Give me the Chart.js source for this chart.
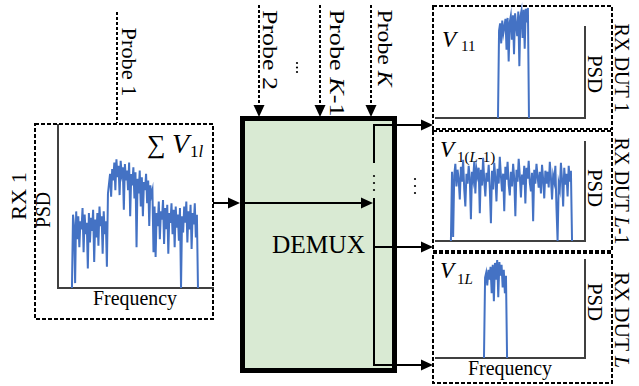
<!DOCTYPE html>
<html>
<head>
<meta charset="utf-8">
<script src="https://cdn.jsdelivr.net/npm/chart.js@4.4.1/dist/chart.umd.min.js"></script>
<style>
html, body { margin: 0; padding: 0; background: #fff; }
#wrap { position: relative; width: 639px; height: 386px; overflow: hidden; }
#wrap canvas { position: absolute; }
#wrap svg { position: absolute; left: 0; top: 0; }
</style>
</head>
<body>
<div id="wrap">
<svg width="639" height="386" xmlns="http://www.w3.org/2000/svg" font-family="'Liberation Serif','Times New Roman',serif" fill="#000">
  <!-- dashed frames -->
  <g fill="none" stroke="#000" stroke-width="2" stroke-dasharray="4 2">
    <rect x="35" y="124" width="178" height="195"/>
    <rect x="433" y="6" width="179" height="123"/>
    <rect x="433" y="131" width="179" height="120"/>
    <rect x="433" y="253" width="179" height="130"/>
  </g>
  <!-- probes -->
  <g stroke="#000" stroke-width="2" stroke-dasharray="3 2">
    <line x1="117" y1="12" x2="117" y2="123"/>
    <line x1="259" y1="5" x2="259" y2="106"/>
    <line x1="320" y1="5" x2="320" y2="106"/>
    <line x1="371" y1="5" x2="371" y2="106"/>
  </g>
  <polygon points="253.5,105 264.5,105 259,117"/>
  <polygon points="314.5,105 325.5,105 320,117"/>
  <polygon points="365.5,105 376.5,105 371,117"/>
  <circle cx="297" cy="63" r="1.1"/><circle cx="297" cy="67.5" r="1.1"/><circle cx="297" cy="72" r="1.1"/>

  <!-- demux -->
  <rect x="242.5" y="118.5" width="152" height="252" fill="#d9ead3" stroke="#000" stroke-width="5"/>
  <g stroke="#000" stroke-width="2" fill="none">
    <line x1="374" y1="124" x2="374" y2="163"/>
    <line x1="374" y1="198" x2="374" y2="366"/>
    <line x1="373" y1="125" x2="422" y2="125"/>
    <line x1="374" y1="247" x2="422" y2="247"/>
    <line x1="373" y1="365" x2="422" y2="365"/>
    <line x1="213" y1="203" x2="229" y2="203"/>
    <line x1="240" y1="203" x2="362" y2="203"/>
  </g>
  <polygon points="421,119.5 433,125 421,130.5"/>
  <polygon points="421,241.5 433,247 421,252.5"/>
  <polygon points="421,359.5 433,365 421,370.5"/>
  <polygon points="228,197.5 240,203 228,208.5"/>
  <polygon points="361,197.5 373,203 361,208.5"/>
  <circle cx="374" cy="176" r="1.1"/><circle cx="374" cy="183" r="1.1"/><circle cx="374" cy="190" r="1.1"/>
  <circle cx="415" cy="179" r="1.1"/><circle cx="415" cy="186" r="1.1"/><circle cx="415" cy="193" r="1.1"/>
  <text x="318.5" y="253" font-size="26" text-anchor="middle" textLength="93" lengthAdjust="spacingAndGlyphs">DEMUX</text>

  <!-- probe labels -->
  <g font-size="21" text-anchor="middle" dominant-baseline="central">
    <text transform="translate(129,62) rotate(90)" textLength="69" lengthAdjust="spacingAndGlyphs">Probe 1</text>
    <text transform="translate(270,50) rotate(90)" textLength="80" lengthAdjust="spacingAndGlyphs">Probe 2</text>
    <text transform="translate(337,63) rotate(90)" textLength="107" lengthAdjust="spacingAndGlyphs">Probe <tspan font-style="italic">K</tspan>-1</text>
    <text transform="translate(385,48) rotate(90)" textLength="77" lengthAdjust="spacingAndGlyphs">Probe <tspan font-style="italic">K</tspan></text>

    <text transform="translate(19,196) rotate(-90)" textLength="48" lengthAdjust="spacingAndGlyphs">RX 1</text>
    <text transform="translate(43,210) rotate(-90)" textLength="36" lengthAdjust="spacingAndGlyphs">PSD</text>

    <text transform="translate(595,74) rotate(90)" textLength="38" lengthAdjust="spacingAndGlyphs">PSD</text>
    <text transform="translate(595,188) rotate(90)" textLength="38" lengthAdjust="spacingAndGlyphs">PSD</text>
    <text transform="translate(595,302) rotate(90)" textLength="38" lengthAdjust="spacingAndGlyphs">PSD</text>

    <text transform="translate(622,68) rotate(90)" textLength="89" lengthAdjust="spacingAndGlyphs">RX DUT 1</text>
    <text transform="translate(622,191) rotate(90)" textLength="107" lengthAdjust="spacingAndGlyphs">RX DUT <tspan font-style="italic">L</tspan>-1</text>
    <text transform="translate(622,320) rotate(90)" textLength="96" lengthAdjust="spacingAndGlyphs">RX DUT <tspan font-style="italic">L</tspan></text>
  </g>
  <text x="135" y="305" font-size="21" text-anchor="middle" textLength="84" lengthAdjust="spacingAndGlyphs">Frequency</text>
  <text x="510" y="375" font-size="21" text-anchor="middle" textLength="84" lengthAdjust="spacingAndGlyphs">Frequency</text>

  <!-- signal labels -->
  <text x="147" y="153" font-size="26">∑</text>
  <text x="172" y="153" font-size="28" font-style="italic">V</text>
  <text x="190" y="157" font-size="17">1<tspan font-style="italic">l</tspan></text>

  <text x="442" y="47" font-size="23" font-style="italic">V</text>
  <text x="461" y="51" font-size="15">11</text>
  <text x="440" y="157" font-size="23" font-style="italic">V</text>
  <text x="457" y="162" font-size="15">1(<tspan font-style="italic">L</tspan>-1)</text>
  <text x="440" y="278" font-size="23" font-style="italic">V</text>
  <text x="457" y="284" font-size="15">1<tspan font-style="italic">L</tspan></text>
</svg>
<canvas id="rxSumChart"></canvas>
<canvas id="dut1Chart"></canvas>
<canvas id="dutL1Chart"></canvas>
<canvas id="dutLChart"></canvas>
</div>
<script>
// PSD traces (0 = x axis, 1 = top of the y axis)
var rxSum = [
    0.00, 0.45, 0.38, 0.03, 0.47, 0.30, 0.44, 0.25, 0.41, 0.36, 0.49, 0.22, 0.45, 0.33, 0.40, 0.12, 0.46,
    0.28, 0.43, 0.35, 0.48, 0.16, 0.42, 0.31, 0.46, 0.26, 0.50, 0.38, 0.44, 0.21, 0.47, 0.33, 0.41, 0.13,
    0.58, 0.64, 0.70, 0.56, 0.73, 0.66, 0.77, 0.60, 0.79, 0.68, 0.75, 0.57, 0.78, 0.70, 0.74, 0.48, 0.76,
    0.66, 0.72, 0.60, 0.77, 0.44, 0.70, 0.63, 0.74, 0.55, 0.71, 0.25, 0.67, 0.58, 0.72, 0.50, 0.68, 0.44,
    0.65, 0.60, 0.70, 0.52, 0.66, 0.38, 0.63, 0.57, 0.60,
    0.22, 0.50, 0.19, 0.46, 0.38, 0.53, 0.30, 0.47, 0.42, 0.54, 0.27, 0.49, 0.36, 0.51, 0.21, 0.46, 0.40,
    0.52, 0.33, 0.48, 0.25, 0.50, 0.37, 0.45, 0.29, 0.49, 0.00, 0.44, 0.34, 0.50, 0.40, 0.53, 0.28, 0.47,
    0.36, 0.51, 0.24, 0.46, 0.39, 0.52, 0.31, 0.45, 0.00
];
var dut1 = [
    0.00, 0.96, 1.04, 0.82, 1.07, 0.93, 1.00, 1.09, 0.75, 1.10, 0.62, 1.05, 1.12, 0.86, 1.13,
    0.70, 1.15, 1.02, 0.90, 1.17, 0.57, 1.12, 1.18, 0.88, 1.19, 0.76, 1.20, 1.05, 1.21, 0.00
];
var dutL1 = [
    0.00, 0.70, 0.04, 0.66, 0.78, 0.55, 0.72, 0.62, 0.42, 0.75,
    0.60, 0.82, 0.52, 0.35, 0.68, 0.58, 0.76, 0.64, 0.22, 0.70,
    0.62, 0.80, 0.48, 0.73, 0.66, 0.74, 0.28, 0.72, 0.56, 0.84,
    0.61, 0.45, 0.69, 0.60, 0.77, 0.53, 0.18, 0.71, 0.52, 0.79,
    0.64, 0.40, 0.73, 0.58, 0.85, 0.66, 0.50, 0.68, 0.30, 0.75,
    0.62, 0.80, 0.57, 0.46, 0.70, 0.55, 0.78, 0.63, 0.25, 0.72,
    0.60, 0.83, 0.66, 0.44, 0.67, 0.57, 0.76, 0.38, 0.74, 0.63,
    0.81, 0.59, 0.50, 0.69, 0.20, 0.72, 0.58, 0.78, 0.65, 0.54,
    0.70, 0.48, 0.77, 0.62, 0.43, 0.71, 0.58, 0.70, 0.54, 0.80,
    0.64, 0.42, 0.66, 0.60, 0.76, 0.33, 0.00, 0.58, 0.52, 0.79,
    0.62, 0.35, 0.74, 0.57, 0.68, 0.45, 0.76, 0.60, 0.71, 0.00
];
var dutL = [
    0.00, 0.82, 0.87, 0.74, 0.90, 0.80, 0.93, 0.66, 0.95, 0.58, 0.97,
    0.80, 1.00, 0.62, 0.98, 0.84, 0.95, 0.72, 0.90, 0.66, 0.84, 0.00
];

// where each band sits along the frequency axis (fraction of axis width)
var rxSumBand = [0.09, 0.903];
var dut1Band = [0.416, 0.624];
var dutL1Band = [0.10, 0.913];
var dutLBand = [0.322, 0.477];

var axisStyle = { display: true, color: '#404040', width: 2 };

var makePlot = function (id, area, values, band, yRight, padTop) {
    var cv = document.getElementById(id);
    var pad = 3;
    var top = padTop || pad;
    cv.width = area.r - area.l + 2 * pad;
    cv.height = area.b - area.t + top + pad;
    cv.style.left = (area.l - pad) + 'px';
    cv.style.top = (area.t - top) + 'px';

    var n = values.length;
    var pts = values.map(function (v, i) {
        return { x: band[0] + (band[1] - band[0]) * i / (n - 1), y: v };
    });

    return new Chart(cv, {
        type: 'line',
        data: {
            datasets: [{
                data: pts,
                borderColor: '#4472c4',
                borderWidth: 2,
                pointRadius: 0,
                tension: 0,
                clip: false
            }]
        },
        options: {
            responsive: false,
            animation: false,
            devicePixelRatio: 1,
            events: [],
            layout: { padding: { left: pad, right: pad, top: top, bottom: pad } },
            plugins: { legend: { display: false }, tooltip: { enabled: false } },
            scales: {
                x: {
                    type: 'linear', min: 0, max: 1,
                    ticks: { display: false },
                    grid: { display: false, drawTicks: false },
                    border: axisStyle
                },
                y: {
                    position: yRight ? 'right' : 'left',
                    min: 0, max: 1,
                    ticks: { display: false },
                    grid: { display: false, drawTicks: false },
                    border: axisStyle
                }
            }
        }
    });
}

makePlot('rxSumChart', { l: 58, t: 125, r: 213, b: 288 }, rxSum, rxSumBand, false);
makePlot('dut1Chart', { l: 436, t: 27, r: 585, b: 118 }, dut1, dut1Band, true, 25);
makePlot('dutL1Chart', { l: 436, t: 142, r: 585, b: 241 }, dutL1, dutL1Band, true);
makePlot('dutLChart', { l: 436, t: 260, r: 585, b: 358 }, dutL, dutLBand, true);
</script>
</body>
</html>
